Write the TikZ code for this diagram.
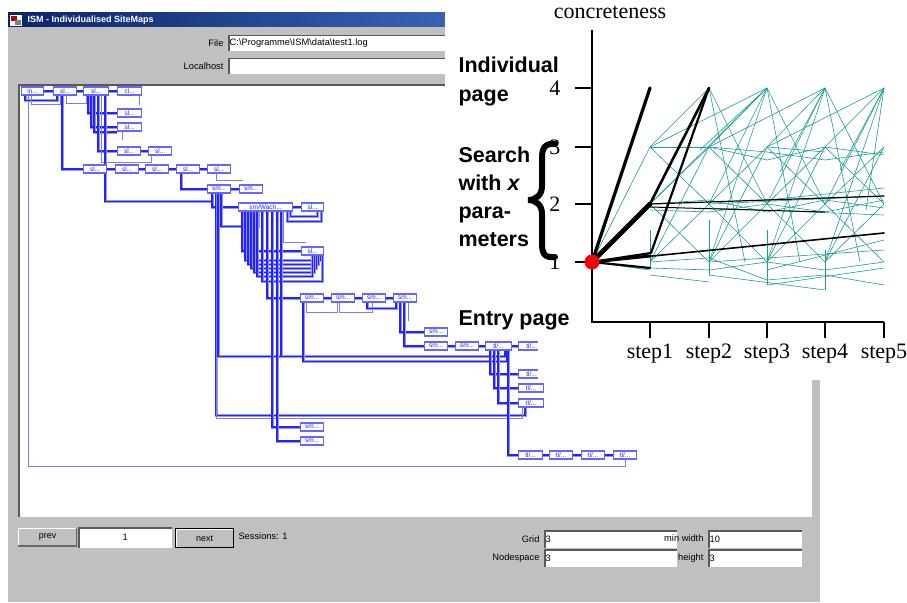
\documentclass[tikz,border=0pt]{standalone}
\usepackage{fontspec}
\setmainfont{Liberation Sans}
\newfontfamily\chartserif{Liberation Serif}
\usetikzlibrary{calc}
\definecolor{wingray}{RGB}{192,192,192}
\definecolor{tblue}{RGB}{35,35,255}
\definecolor{tlight}{RGB}{150,150,255}
\definecolor{webteal}{RGB}{30,155,155}
\definecolor{navy}{RGB}{10,36,106}
\definecolor{titleblue}{RGB}{58,98,178}
\pgfdeclarelayer{back}
\pgfdeclarelayer{lines}
\pgfdeclarelayer{front}
\pgfsetlayers{back,lines,main,front}
\tikzset{
  tbox/.style={draw=tblue!70, fill=white, line width=1.2pt, anchor=west, minimum height=8pt,
    inner sep=0pt, font=\fontsize{6.5}{6.5}\selectfont, text=tblue},
  tline/.style={tblue, line width=1.3pt, preaction={draw=tlight, line width=3pt}},
  tthin/.style={tblue!60, line width=0.9pt},
  uitext/.style={font=\fontsize{9.3}{10}\selectfont},
  field/.style={fill=white, anchor=north west, inner sep=1.5pt, font=\fontsize{9.3}{10}\selectfont,
    align=left, path picture={\draw[line width=2.6pt, black!65]
      (path picture bounding box.south west) -- (path picture bounding box.north west)
      -- (path picture bounding box.north east);}},
  uibutton/.style={fill=wingray, anchor=north west, inner sep=0pt, font=\fontsize{9}{10}\selectfont,
    path picture={\draw[white, line width=2.4pt]
      (path picture bounding box.south west) -- (path picture bounding box.north west)
      -- (path picture bounding box.north east);
      \draw[black!60, line width=2.4pt]
      (path picture bounding box.south west) -- (path picture bounding box.south east)
      -- (path picture bounding box.north east);}},
  web/.style={webteal, line width=0.6pt},
  blk/.style={black, line cap=round},
  lab/.style={font=\fontsize{21.5}{22}\selectfont\bfseries, anchor=base west},
  ylab/.style={font=\chartserif\fontsize{22}{22}\selectfont, anchor=east},
  xlab/.style={font=\chartserif\fontsize{22}{22}\selectfont, anchor=center}
}
\newcommand\tb[5]{\node[tbox, minimum width=#4pt] (#1) at (#2,#3) {#5};}
\begin{document}
\begin{tikzpicture}[x=1pt,y=-1pt]
\useasboundingbox (0,0) rectangle (907,602);
\begin{pgfonlayer}{back}
\fill[white] (0,0) rectangle (907,602);
% window
\fill[wingray] (8,13) rectangle (820,602);
\shade[left color=navy, right color=titleblue] (8,13) rectangle (445,27);
\fill[white] (10,15) rectangle (22,26);
\fill[red!70!black] (11,16) rectangle (17,21);
\fill[gray] (15,20) rectangle (21,25);
% tree panel
\fill[white] (18,84) rectangle (812,517);
\draw[black!65, line width=1.6pt] (18.8,517) -- (18.8,84.8) -- (812,84.8);
\end{pgfonlayer}

\node[anchor=west, text=white, font=\fontsize{9}{9}\selectfont\bfseries] (title) at (24,20.5) {ISM - Individualised SiteMaps};
\node[uitext, anchor=east] (filelab) at (227,43) {File};
\node[field, text width=217pt, minimum height=16pt] (filefield) at (228,35) {C:\textbackslash Programme\textbackslash ISM\textbackslash data\textbackslash test1.log};
\node[uitext, anchor=east] (hostlab) at (227,66) {Localhost};
\node[field, text width=217pt, minimum height=16pt] (hostfield) at (228,58) {};

% bottom controls
\node[uibutton, minimum width=59pt, minimum height=18pt] (prev) at (18,528) {prev};
\node[field, text width=91pt, minimum height=21pt, align=center] (page) at (78,527) {1};
\node[uibutton, draw=black, line width=1.4pt, minimum width=58pt, minimum height=19pt] (next) at (175,528) {next};
\node[uitext, anchor=west] (sessions) at (235,536) {Sessions: 1};
\node[uitext, anchor=east] (gridlab) at (543,539) {Grid};
\node[field, text width=130pt, minimum height=18pt] (gridfield) at (544,530) {3};
\node[uitext, anchor=east] (nslab) at (543,558) {Nodespace};
\node[field, text width=130pt, minimum height=18pt] (nsfield) at (544,549) {3};
\node[uitext, anchor=east] (mwlab) at (707,538) {min width};
\node[field, text width=91pt, minimum height=18pt] (mwfield) at (708,530) {10};
\node[uitext, anchor=east] (hlab) at (707,558) {height};
\node[field, text width=91pt, minimum height=18pt] (hfield) at (708,549) {3};

% tree boxes
\tb{a1}{21}{91}{22}{in...}
\tb{a2}{53}{91}{23}{sl...}
\tb{a3}{83}{91}{25}{sl...}
\tb{a4}{117}{91}{24}{cl...}
\tb{b1}{117}{113}{24}{sl...}
\tb{b2}{117}{127}{24}{sl...}
\tb{b3}{117}{151}{23}{sl...}
\tb{b4}{148}{151}{23}{sl...}
\tb{c1}{83}{169}{23}{sl...}
\tb{c2}{115}{169}{23}{sl...}
\tb{c3}{145}{169}{23}{sl...}
\tb{c4}{176}{169}{23}{sl...}
\tb{c5}{207}{169}{23}{sl...}
\tb{d1}{207}{189}{23}{sm...}
\tb{d2}{239}{189}{23}{sm...}
\tb{e1}{238}{207}{54}{sm/Wach...}
\tb{e2}{301}{207}{22}{sl...}
\tb{f1}{301}{251}{22}{sl...}
\tb{g1}{300}{298}{23}{sm...}
\tb{g2}{331}{298}{23}{sm...}
\tb{g3}{362}{298}{23}{sm...}
\tb{g4}{393}{298}{23}{sm...}
\tb{h1}{424}{332}{23}{sm...}
\tb{h2}{424}{346}{23}{sm...}
\tb{i2}{455}{346}{23}{sm...}
\tb{i3}{485}{346}{26}{tl/...}
\tb{i4}{518}{346}{26}{tl/...}
\tb{j1}{518}{374}{26}{tl/...}
\tb{j2}{518}{388}{25}{tl/...}
\tb{j3}{518}{403}{25}{tl/...}
\tb{k1}{518}{455}{24}{tl/...}
\tb{k2}{549}{455}{23}{tl/...}
\tb{k3}{581}{455}{23}{tl/...}
\tb{k4}{613}{455}{23}{tl/...}
\tb{l1}{300}{427}{23}{sm...}
\tb{l2}{300}{441}{23}{sm...}

\begin{pgfonlayer}{lines}
\foreach \p/\q in {a1/a2,a2/a3,a3/a4,b3/b4,c1/c2,c2/c3,c3/c4,c4/c5,d1/d2,e1/e2,g1/g2,g2/g3,g3/g4,h2/i2,i2/i3,i3/i4,k1/k2,k2/k3,k3/k4}
  \draw[tline] (\p.east) -- (\q.west);
% outer frame line
\draw[tthin] ([xshift=7pt]a1.south west) |- ($(k4.south)+(0,7)$) -- (k4.south);
\draw[tline] ([xshift=4pt]a1.south west) |- ($(a2.south west)+(4,5)$) -- ($(a2.south west)+(4,0)$);
\draw[tthin] ([xshift=10pt]a1.south west) |- ($(a2.south west)+(7,9)$) -- ($(a2.south west)+(7,0)$);
\draw[tline] ([xshift=9pt]a2.south west) |- (c1.west);
\draw[tthin] ([xshift=13pt]a2.south west) |- ($(a3.south west)+(3,8)$) -- ($(a3.south west)+(3,0)$);
% a3 children
\draw[tline] ([xshift=5pt]a3.south west) |- (b1.west);
\draw[tline] ([xshift=8pt]a3.south west) |- (b2.west);
\draw[tline] ([xshift=11pt]a3.south west) |- ($(b2.west)+(0,5)$);
\draw[tline] ([xshift=15pt]a3.south west) |- (b3.west);
\draw[tthin] ([xshift=18pt]a3.south west) |- ($(b4.south west)+(3,7)$) -- ($(b4.south west)+(3,0)$);
\draw[tline] ([xshift=22pt]a3.south west) |- ($(d1.south west)+(6,8)$);
\draw[tthin] ([xshift=-3pt]a4.south east) |- ($(b1.north east)+(-3,-3)$);
\draw[tthin] ([xshift=5pt]b2.south west) -- ++(0,8);
% c4 -> d1 -> e1
\draw[tline] ([xshift=5pt]c4.south west) |- (d1.west);
\draw[tthin] ([xshift=9pt]c5.south west) |- ($(d2.north west)+(4,-4)$);
\draw[tline] ([xshift=5pt]d1.south west) |- (e1.west);
\draw[tline] ([xshift=9pt]d1.south west) |- ($(j3.south west)+(7,8)$) -- ($(j3.south west)+(7,0)$);
\draw[tthin] ([xshift=9pt]d1.south west) |- ($(j3.south west)+(4,11)$) -- ($(j3.south west)+(4,0)$);
\draw[tline] ([xshift=11pt]d1.south west) |- ($(i3.south west)+(20,6)$) -- ($(i3.south west)+(20,0)$);
\draw[tline] ([xshift=14pt]d1.south west) |- ($(e1.south west)+(20,15)$) -- ($(e1.south west)+(20,0)$);
% e1 children
\draw[tline] ([xshift=4pt]e1.south west) |- (f1.west);
\foreach \s/\d in {7/4,10/8,13/12,16/16,19/20}
  \draw[tline] ([xshift=\s pt]e1.south west) |- ($(f1.south east)+(-\d/2-2,\d+1)$) -- ($(f1.south east)+(-\d/2-2,0)$);
\draw[tline] ([xshift=24pt]e1.south west) |- ($(f1.south east)+(-2,26)$) -- ($(f1.south east)+(-2,0)$);
\draw[tline] ([xshift=29pt]e1.south west) |- (g1.west);
\draw[tline] ([xshift=34pt]e1.south west) |- (l1.west);
\draw[tline] ([xshift=39pt]e1.south west) |- (l2.west);
\draw[tline] ([xshift=43pt]e1.south west) |- ($(i3.south west)+(18,6)$);
\draw[tline] ([xshift=-6pt]e1.south east) |- ($(e2.south east)+(-3,10)$) -- ($(e2.south east)+(-3,0)$);
\draw[tline] ([xshift=-3pt]e1.south east) |- ($(e2.south east)+(-7,5)$) -- ($(e2.south east)+(-7,0)$);
\draw[tthin] ([xshift=-10pt]e1.south east) |- ($(f1.north west)+(5,-4)$);
% g row
\draw[tline] ([xshift=3pt]g1.south west) |- ($(i3.south west)+(22,11)$) -- ($(i3.south west)+(22,0)$);
\draw[tthin] ([xshift=6pt]g1.south west) |- ($(g2.south west)+(6,10)$) -- ($(g2.south west)+(6,0)$);
\draw[tthin] ([xshift=8pt]g2.south west) |- ($(g3.south west)+(10,10)$) -- ($(g3.south west)+(10,0)$);
\draw[tline] ([xshift=3pt]g4.south west) |- ($(g3.south west)+(5,6)$) -- ($(g3.south west)+(5,0)$);
\draw[tline] ([xshift=7pt]g4.south west) |- (h1.west);
\draw[tline] ([xshift=11pt]g4.south west) |- (h2.west);
\draw[tthin] ([xshift=15pt]g4.south west) -- ++(0,18);
% i3 children
\draw[tline] ([xshift=5pt]i3.south west) |- (j1.west);
\draw[tline] ([xshift=9pt]i3.south west) |- (j2.west);
\draw[tline] ([xshift=13pt]i3.south west) |- (j3.west);
\draw[tline] ([xshift=23pt]i3.south west) |- (k1.west);
\end{pgfonlayer}

\begin{pgfonlayer}{front}
\fill[white] (445,0) rectangle (907,300);
\fill[white] (538,300) rectangle (907,380);
% web
\begin{scope}
\clip (592,0) rectangle (884.5,380);
\foreach \xa/\ya/\xb/\yb in {
 592/262/650/147, 592/262/650/270, 592/262/650/204,
 650/147/709/88, 650/204/767/88, 650/147/767/88,
 709/147/767/88, 709/204/767/88, 709/262/767/88, 700/150/767/88,
 767/147/825/88, 767/204/825/88, 767/262/825/88, 709/147/825/88, 780/172/825/88,
 825/147/884/88, 825/204/884/88, 825/262/884/88, 767/147/884/88, 840/170/884/88,
 709/88/767/204, 709/88/745/262, 767/88/825/204, 767/88/800/262,
 825/88/884/204, 825/88/860/262, 884/88/866/210,
 650/147/709/147, 709/147/767/152, 767/152/825/160, 825/160/884/152,
 709/147/767/160, 767/160/825/147, 825/147/884/155, 767/147/825/152,
 650/204/709/200, 709/200/767/212, 767/212/825/200, 825/200/884/208,
 650/210/709/212, 709/212/767/204, 767/204/825/212, 825/212/884/200,
 709/204/884/196, 709/208/884/215, 767/200/884/188,
 650/268/709/270, 709/270/767/262, 767/262/825/270, 825/270/884/262,
 650/262/709/258, 709/258/767/280, 767/280/825/275, 825/275/884/285,
 650/275/709/282, 709/275/825/290, 767/285/884/268, 709/262/884/250, 767/270/884/240,
 650/147/709/204, 650/204/709/147, 709/147/767/204, 709/204/767/147,
 767/147/825/204, 767/204/825/147, 825/147/884/204, 825/204/884/147,
 650/204/709/262, 650/262/709/204, 709/204/767/262, 709/262/767/204,
 767/204/825/262, 767/262/825/204, 825/204/884/262, 825/262/884/204,
 650/262/709/147, 709/262/767/147, 767/262/825/147, 825/262/884/147,
 650/268/650/230, 709/220/709/275, 767/230/767/285, 825/250/825/290}
  \draw[web] (\xa,\ya) -- (\xb,\yb);
\end{scope}
% black paths
\draw[blk, line width=3.2pt] (592,262) -- (650,88);
\draw[blk, line width=4.8pt] (592,262) -- (650,204);
\draw[blk, line width=2.6pt] (650,204) -- (709,88);
\draw[blk, line width=2.2pt] (651,253) -- (709,88);
\draw[blk, line width=2.2pt] (592,262) -- (651,253);
\draw[blk, line width=3pt] (592,262) -- (650,256);
\draw[blk, line width=1.6pt] (592,262) -- (884,233);
\draw[blk, line width=2.2pt] (592,262) -- (650,268);
\draw[blk, line width=1.2pt] (650,204) -- (884,196);
\draw[blk, line width=1pt] (650,207) -- (825,212);
% axes
\draw[line width=1.5pt] (592,30) -- (592,322) -- (884,322);
\foreach \yy in {88,147,204,262} \draw[line width=1.5pt] (575,\yy) -- (592,\yy);
\foreach \xx in {650,709,767,825,884} \draw[line width=1.5pt] (\xx,322) -- (\xx,338);
\fill[red] (592,262) circle (7.5);
\node[font=\chartserif\fontsize{22}{22}\selectfont] (conc) at (610,12) {concreteness};
\node[ylab] (y4) at (564,88) {4};
\node[ylab] (y3) at (564,147) {3};
\node[ylab] (y2) at (564,204) {2};
\node[ylab] (y1) at (564,262) {1};
\node[xlab] (st1) at (650,354) {step1};
\node[xlab] (st2) at (709,354) {step2};
\node[xlab] (st3) at (767,354) {step3};
\node[xlab] (st4) at (825,354) {step4};
\node[xlab] (st5) at (884,354) {step5};
% labels
\node[lab] (ind1) at (455,73) {Individual};
\node[lab] (ind2) at (455,101) {page};
\node[lab] (s1) at (455,162) {Search};
\node[lab] (s2) at (455,190) {with \textit{x}};
\node[lab] (s3) at (455,218) {para-};
\node[lab] (s4) at (455,246) {meters};
\node[lab] (entry) at (455,325) {Entry page};
% curly brace
\draw[line width=6pt, line cap=round] (555,144)
  .. controls (545,143) and (542,148) .. (542,158) -- (542,186)
  .. controls (542,195) and (536,200) .. (528,200)
  .. controls (536,200) and (542,205) .. (542,214) -- (542,244)
  .. controls (542,254) and (545,258) .. (555,257);
\end{pgfonlayer}
\end{tikzpicture}
\end{document}
